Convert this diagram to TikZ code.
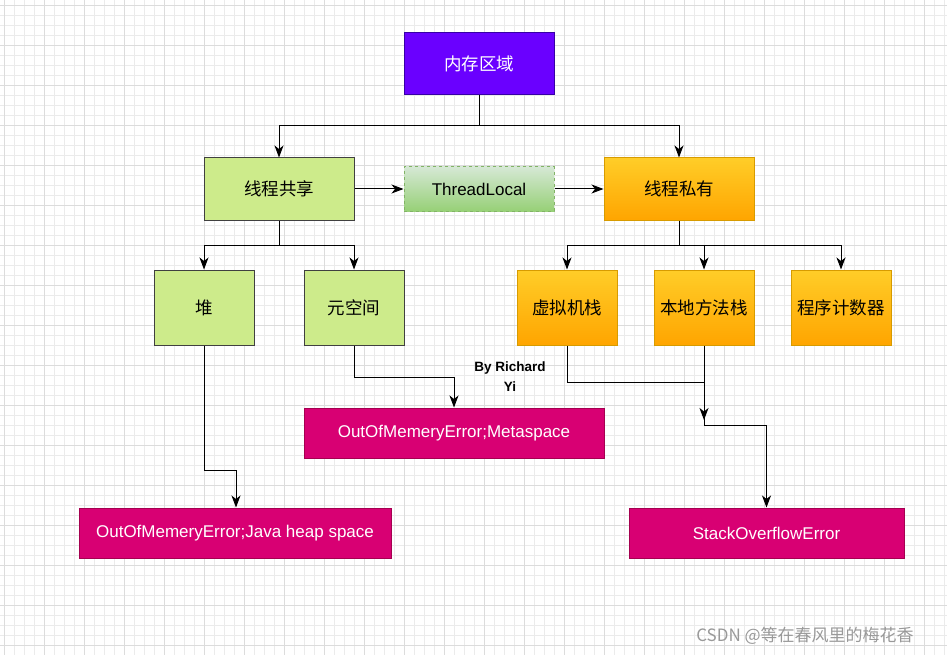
\documentclass[tikz,border=0pt]{standalone}
\usepackage{fontspec}
\setmainfont{Liberation Sans}
\newfontfamily\cjk{Noto Sans CJK SC}
\usetikzlibrary{arrows.meta}
\definecolor{gridc}{HTML}{EBEBEB}
\definecolor{gridm}{HTML}{DCDCDC}
\definecolor{memd}{HTML}{3700A6}
\definecolor{memf}{HTML}{6A00FF}
\definecolor{grf}{HTML}{CDEB8B}
\definecolor{ord}{HTML}{D79B00}
\definecolor{ort}{HTML}{FFCD28}
\definecolor{orb}{HTML}{FFA500}
\definecolor{tld}{HTML}{82B366}
\definecolor{tlt}{HTML}{D5E8D4}
\definecolor{tlb}{HTML}{97D077}
\definecolor{erd}{HTML}{A50050}
\definecolor{erf}{HTML}{D80073}
\begin{document}
\begin{tikzpicture}[x=1pt,y=-1pt,
  box/.style={draw=#1,line width=1pt,inner sep=0pt,font=\cjk\fontsize{17.5}{20}\selectfont},
  green/.style={box=black!75,fill=grf},
  orange/.style={box=ord,top color=ort,bottom color=orb},
  err/.style={box=erd,fill=erf,text=white,font=\fontsize{17}{20}\selectfont},
  ar/.style={-{Stealth[length=12pt,width=9pt,inset=3.5pt]},line width=1pt}]
\useasboundingbox (0,0) rectangle (947,655);
\fill[white] (0,0) rectangle (947,655);
\foreach \x in {4,14,...,944} \draw[gridc,line width=0.5pt] (\x,0) -- (\x,655);
\foreach \y in {5,15,...,655} \draw[gridc,line width=0.5pt] (0,\y) -- (947,\y);
\foreach \x in {4,44,...,944} \draw[gridm,line width=0.6pt] (\x,0) -- (\x,655);
\foreach \y in {5,45,...,655} \draw[gridm,line width=0.6pt] (0,\y) -- (947,\y);

\node[box=memd,fill=memf,text=white,minimum width=150pt,minimum height=62pt] (mem) at (479,64) {内存区域};
\node[green,minimum width=150pt,minimum height=62pt] (sh) at (279,189) {线程共享};
\node[box=tld,dashed,top color=tlt,bottom color=tlb,minimum width=150pt,minimum height=44pt,font=\fontsize{17}{20}\selectfont] (tl) at (479,189) {ThreadLocal};
\node[orange,minimum width=150pt,minimum height=62pt] (pr) at (679,189) {线程私有};
\node[green,minimum width=100pt,minimum height=75pt] (heap) at (204,307.5) {堆};
\node[green,minimum width=100pt,minimum height=75pt] (meta) at (354,307.5) {元空间};
\node[orange,minimum width=100pt,minimum height=75pt] (vm) at (567,307.5) {虚拟机栈};
\node[orange,minimum width=100pt,minimum height=75pt] (nat) at (704,307.5) {本地方法栈};
\node[orange,minimum width=100pt,minimum height=75pt] (pc) at (841,307.5) {程序计数器};
\node[err,minimum width=300pt,minimum height=50pt] (e1) at (454,433) {OutOfMemeryError;Metaspace};
\node[err,minimum width=312pt,minimum height=50pt] (e2) at (235,533) {OutOfMemeryError;Java heap space};
\node[err,minimum width=275pt,minimum height=50pt] (e3) at (766.5,533) {StackOverflowError};
\node[font=\bfseries\fontsize{13.5}{20}\selectfont,align=center] (by) at (510,376.5) {By Richard\\Yi};
\node[text=gray!80,font=\cjk\fontsize{17}{20}\selectfont] (wm) at (805,636) {CSDN @等在春风里的梅花香};

\draw[ar] (mem.south) -- (479,126) -| (sh.north);
\draw[ar] (479,126) -| (pr.north);
\draw[ar] (sh) -- (tl);
\draw[ar] (tl) -- (pr);
\draw[ar] (sh.south) -- (279,245) -| (heap.north);
\draw[ar] (279,245) -| (meta.north);
\draw[ar] (pr.south) -- (679,245) -| (vm.north);
\draw[ar] (679,245) -| (nat.north);
\draw[ar] (679,245) -| (pc.north);
\coordinate (h2) at (236,470);
\draw[ar] (heap.south) -- (204,470) -- (h2) -- (h2 |- e2.north);
\draw[ar] (meta.south) -- (354,377) -| (e1.north);
\coordinate (j) at (704,425);
\draw[line width=1pt] (vm.south) -- (567,382) -- (704,382);
\draw[ar] (nat.south) -- (704,420);
\draw[line width=1pt] (704,415) -- (j);
\draw[ar] (j) -| (e3.north);
\end{tikzpicture}
\end{document}
